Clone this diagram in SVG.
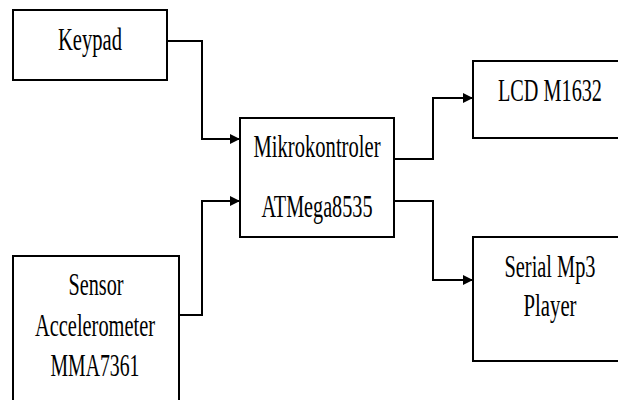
<svg xmlns="http://www.w3.org/2000/svg" width="618" height="400" viewBox="0 0 618 400">
<style>
.box{fill:#fff;stroke:#000;stroke-width:2}
.t{font-family:"Liberation Serif","Times New Roman",serif;font-size:31px;fill:#000;text-anchor:middle}
.c{fill:none;stroke:#000;stroke-width:2}
</style>
<defs>
<marker id="ah" markerWidth="10" markerHeight="10" refX="9" refY="5" orient="auto" markerUnits="userSpaceOnUse">
<path d="M0,0 L10,5 L0,10 Z" fill="#000"/>
</marker>
</defs>
<rect width="618" height="400" fill="#fff"/>
<g id="connectors">
<path class="c" d="M167,41 H202 V139 H239" marker-end="url(#ah)"/>
<path class="c" d="M179,315 H202 V201 H239" marker-end="url(#ah)"/>
<path class="c" d="M394,159 H433 V98 H472" marker-end="url(#ah)"/>
<path class="c" d="M394,201 H433 V280 H472" marker-end="url(#ah)"/>
</g>
<g id="keypad">
<rect class="box" x="13" y="10" width="154" height="70"/>
<text class="t" x="90" y="50" textLength="64" lengthAdjust="spacingAndGlyphs">Keypad</text>
</g>
<g id="sensor">
<rect class="box" x="13" y="256" width="166" height="160"/>
<text class="t" x="96" y="295" textLength="55" lengthAdjust="spacingAndGlyphs">Sensor</text>
<text class="t" x="95" y="336" textLength="120" lengthAdjust="spacingAndGlyphs">Accelerometer</text>
<text class="t" x="95" y="376" textLength="89" lengthAdjust="spacingAndGlyphs">MMA7361</text>
</g>
<g id="mcu">
<rect class="box" x="240" y="118" width="154" height="119"/>
<text class="t" x="317" y="157" textLength="127" lengthAdjust="spacingAndGlyphs">Mikrokontroler</text>
<text class="t" x="317" y="217" textLength="111" lengthAdjust="spacingAndGlyphs">ATMega8535</text>
</g>
<g id="lcd">
<rect class="box" x="473" y="61" width="160" height="77"/>
<text class="t" x="550" y="101" textLength="104" lengthAdjust="spacingAndGlyphs">LCD M1632</text>
</g>
<g id="mp3">
<rect class="box" x="473" y="237" width="160" height="124"/>
<text class="t" x="550" y="277" textLength="91" lengthAdjust="spacingAndGlyphs">Serial Mp3</text>
<text class="t" x="550" y="316" textLength="53" lengthAdjust="spacingAndGlyphs">Player</text>
</g>
</svg>
